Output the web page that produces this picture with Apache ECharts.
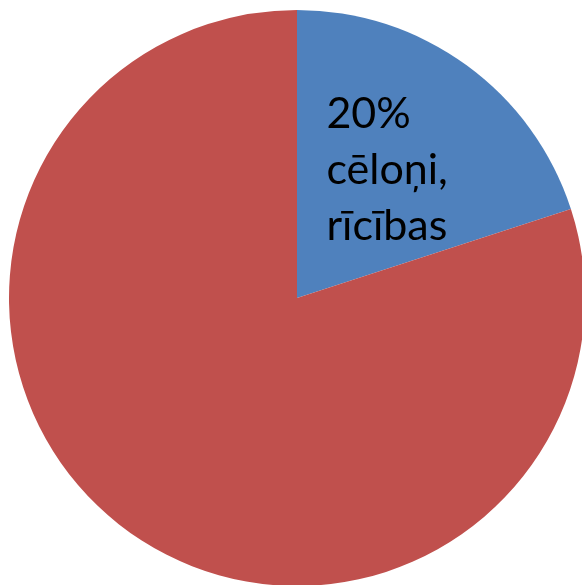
<!DOCTYPE html>
<html><head><meta charset="utf-8">
<style>html,body{margin:0;padding:0;background:#fff;}#c{width:582px;height:585px;}</style>
<script src="https://cdn.jsdelivr.net/npm/echarts@6/dist/echarts.min.js"></script>
</head><body><div id="c"></div>
<script>
const categories = ['cēloņi, rīcības', 'sekas'];
const values = [20, 80];
const colors = ['#4F81BD', '#C0504D'];
const labelLines = [['20%', 'cēloņi,', 'rīcības'], []];

const chart = echarts.init(document.getElementById('c'), null, {renderer: 'canvas'});
chart.setOption({
  animation: false,
  series: [{
    type: 'pie',
    center: [297, 298],
    radius: 288,
    startAngle: 90,
    clockwise: true,
    silent: true,
    itemStyle: {borderWidth: 0},
    labelLine: {show: false},
    data: categories.map((c, i) => ({
      name: c,
      value: values[i],
      itemStyle: {color: colors[i]},
      label: {
        show: labelLines[i].length > 0,
        position: 'inside',
        formatter: labelLines[i].map(s => '{a|' + s + '}').join('\n'),
        offset: [5, -9],
        rich: {
          a: {
            width: 124,
            align: 'left',
            color: '#000',
            fontFamily: 'Lato',
            fontSize: 43,
            lineHeight: 56
          }
        }
      }
    }))
  }]
});
</script></body></html>
